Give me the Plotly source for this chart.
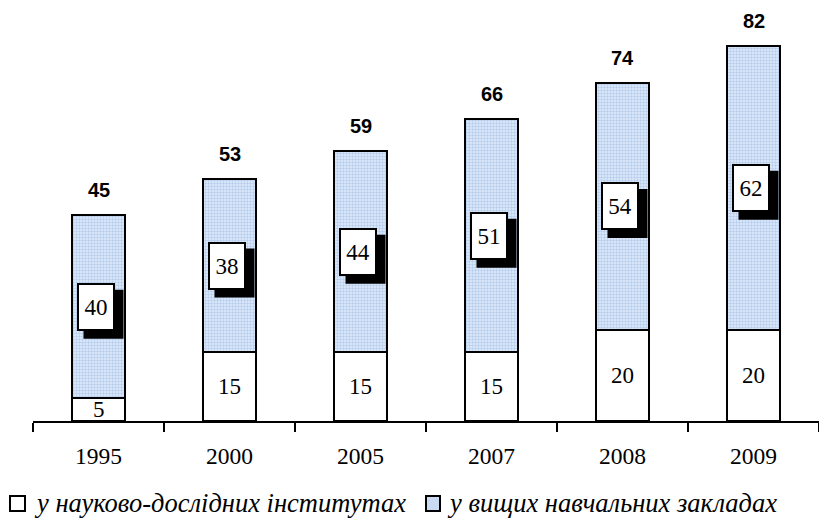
import plotly.graph_objects as go

years = ["1995", "2000", "2005", "2007", "2008", "2009"]
institutes = [5, 15, 15, 15, 20, 20]
universities = [40, 38, 44, 51, 54, 62]
totals = [45, 53, 59, 66, 74, 82]
names = ["у науково-дослідних інститутах", "у вищих навчальних закладах"]

serif = "Liberation Serif, Times New Roman, serif"
sans = "Liberation Sans, Arial, sans-serif"

# plot-area geometry (px) used to place the hand-drawn legend
L, T, W, H = 33, 20, 786, 401
def px(x):
    return (x - L) / W
def py(y):
    return (T + H - y) / H

fig = go.Figure()
fig.add_trace(go.Bar(
    x=years, y=institutes, name=names[0],
    marker=dict(color="white", line=dict(color="black", width=2)),
    width=0.41, showlegend=False, hoverinfo="skip",
))
fig.add_trace(go.Bar(
    x=years, y=universities, name=names[1],
    marker=dict(color="#d6e3f5", line=dict(color="black", width=2),
                pattern=dict(shape=".", fgcolor="#86abe2", bgcolor="#e3ecf9", size=3, solidity=0.5)),
    width=0.41, showlegend=False, hoverinfo="skip",
))

# labels of the lower segment
for i, b in enumerate(institutes):
    fig.add_annotation(x=i, y=b / 2, text=str(b), showarrow=False,
                       font=dict(family=serif, size=23, color="black"))

# labels in boxes with a drop shadow for the upper segment
for i, (b, u) in enumerate(zip(institutes, universities)):
    yc = b + u / 2
    fig.add_shape(type="rect", xref="x", yref="y", xsizemode="pixel", ysizemode="pixel",
                  xanchor=i, yanchor=yc, x0=-15, x1=25, y0=-32, y1=17,
                  fillcolor="black", line=dict(width=0), layer="above")
    fig.add_annotation(x=i, y=yc, text=str(u), showarrow=False, xshift=-3,
                       width=32, height=42, borderpad=1,
                       font=dict(family=serif, size=23, color="black"),
                       bgcolor="white", bordercolor="black", borderwidth=2)

# totals above bars
for i, t in enumerate(totals):
    fig.add_annotation(x=i, y=t, text="<b>%d</b>" % t, showarrow=False, yshift=25,
                       font=dict(family=sans, size=20, color="black"))

# legend drawn by hand
legend_items = [
    (10, 25, 32, dict(fillcolor="white")),
    (426, 440, 445, dict(fillcolor="#c9daf2")),
]
for (x0, x1, xt, fill), name in zip(legend_items, names):
    fig.add_shape(type="rect", xref="paper", yref="paper",
                  x0=px(x0), x1=px(x1), y0=py(511), y1=py(496),
                  line=dict(color="black", width=2), **fill)
    fig.add_annotation(xref="paper", yref="paper", x=px(xt), y=py(503.5),
                       xanchor="left", yanchor="middle", text="<i>%s</i>" % name,
                       showarrow=False, font=dict(family=serif, size=26.5, color="black"))

fig.update_layout(
    width=819, height=518,
    margin=dict(l=L, r=0, t=T, b=518 - T - H, autoexpand=False),
    barmode="stack", bargap=0.59,
    plot_bgcolor="white", paper_bgcolor="white",
    showlegend=False,
    xaxis=dict(type="category", showline=True, linecolor="black", linewidth=2, ticks="outside",
               ticklen=9, tickwidth=2, tickcolor="black", tickson="boundaries",
               tickfont=dict(family=serif, size=23.5, color="black"), ticklabelstandoff=13,
               showgrid=False, range=[-0.5, 5.5], automargin=False),
    yaxis=dict(range=[0, 87.7], visible=False, showgrid=False, zeroline=False),
)

fig.write_html("out.html", config={"displayModeBar": False},
               post_script="document.body.style.margin='0';document.body.style.overflow='hidden';")
